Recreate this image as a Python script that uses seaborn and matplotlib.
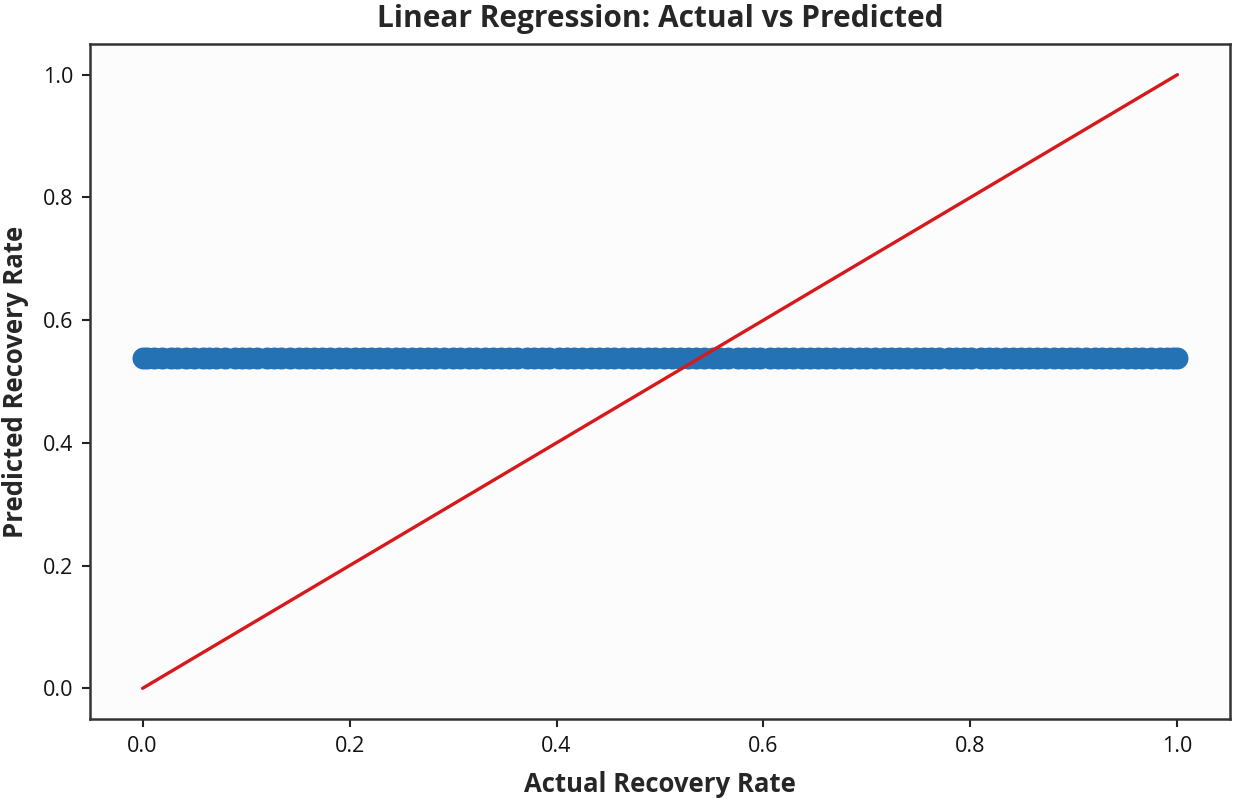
import matplotlib
matplotlib.use("Agg")
import matplotlib.pyplot as plt
import seaborn as sns
import pandas as pd

# Data
actual = [0.000, 0.004, 0.011, 0.019, 0.027, 0.033, 0.042, 0.050, 0.058, 0.064,
          0.071, 0.080, 0.089, 0.096, 0.103, 0.111, 0.120, 0.127, 0.134, 0.142,
          0.151, 0.158, 0.166, 0.173, 0.181, 0.190, 0.197, 0.205, 0.213, 0.221,
          0.228, 0.236, 0.245, 0.252, 0.260, 0.268, 0.276, 0.283, 0.291, 0.300,
          0.307, 0.315, 0.322, 0.331, 0.339, 0.346, 0.354, 0.362, 0.371, 0.378,
          0.386, 0.393, 0.402, 0.410, 0.417, 0.425, 0.433, 0.441, 0.449, 0.456,
          0.464, 0.473, 0.480, 0.488, 0.495, 0.504, 0.512, 0.519, 0.527, 0.535,
          0.543, 0.551, 0.558, 0.566, 0.575, 0.582, 0.590, 0.597, 0.606, 0.614,
          0.621, 0.629, 0.637, 0.645, 0.653, 0.660, 0.668, 0.677, 0.684, 0.692,
          0.699, 0.708, 0.716, 0.723, 0.731, 0.739, 0.747, 0.755, 0.762, 0.770,
          0.779, 0.786, 0.794, 0.801, 0.810, 0.818, 0.825, 0.833, 0.841, 0.849,
          0.857, 0.864, 0.872, 0.881, 0.888, 0.896, 0.903, 0.912, 0.920, 0.927,
          0.935, 0.943, 0.951, 0.959, 0.966, 0.974, 0.983, 0.990, 0.996, 1.000]
predicted = [0.5380, 0.5378, 0.5382, 0.5380, 0.5383, 0.5378, 0.5380, 0.5382, 0.5379, 0.5380,
             0.5383, 0.5380, 0.5378, 0.5381, 0.5380, 0.5380, 0.5384, 0.5378, 0.5380, 0.5382,
             0.5380, 0.5379, 0.5381, 0.5380, 0.5383, 0.5378, 0.5380, 0.5382, 0.5380, 0.5379,
             0.5380, 0.5383, 0.5380, 0.5378, 0.5381, 0.5380, 0.5380, 0.5379, 0.5383, 0.5380,
             0.5381, 0.5378, 0.5380, 0.5380, 0.5384, 0.5378, 0.5381, 0.5380, 0.5379, 0.5380,
             0.5382, 0.5380, 0.5383, 0.5378, 0.5380, 0.5382, 0.5380, 0.5379, 0.5380, 0.5383,
             0.5380, 0.5378, 0.5381, 0.5380, 0.5380, 0.5383, 0.5378, 0.5380, 0.5382, 0.5380,
             0.5379, 0.5381, 0.5380, 0.5384, 0.5380, 0.5378, 0.5380, 0.5382, 0.5380, 0.5379,
             0.5383, 0.5380, 0.5381, 0.5378, 0.5380, 0.5380, 0.5384, 0.5378, 0.5381, 0.5380,
             0.5380, 0.5379, 0.5382, 0.5380, 0.5383, 0.5378, 0.5380, 0.5382, 0.5380, 0.5379,
             0.5380, 0.5383, 0.5380, 0.5378, 0.5381, 0.5380, 0.5380, 0.5379, 0.5383, 0.5380,
             0.5381, 0.5378, 0.5380, 0.5380, 0.5384, 0.5378, 0.5381, 0.5380, 0.5379, 0.5380,
             0.5382, 0.5380, 0.5383, 0.5378, 0.5380, 0.5382, 0.5377, 0.5379, 0.5380, 0.5380]
ref_line_x = [0.0, 1.0]
ref_line_y = [0.0, 1.0]

df = pd.DataFrame({"Actual": actual, "Predicted": predicted})
ref = pd.DataFrame({"x": ref_line_x, "y": ref_line_y})

sns.set_theme(style="ticks")
plt.rcParams['font.family'] = ['Open Sans', 'DejaVu Sans']

fig = plt.figure(figsize=(12.43, 7.99), dpi=100)
ax = fig.add_axes([90 / 1243, 80 / 799, 1140 / 1243, 675 / 799])
ax.set_facecolor("#fcfcfc")

sns.scatterplot(data=df, x="Actual", y="Predicted", ax=ax, s=250,
                color="#2471b3", edgecolor="#2471b3", linewidth=0, alpha=1.0)
sns.lineplot(data=ref, x="x", y="y", ax=ax, color="#d7191c", linewidth=2.4)

ax.set_xlim(-0.0508, 1.0508)
ax.set_ylim(-0.05, 1.05)
ax.set_xticks([0.0, 0.2, 0.4, 0.6, 0.8, 1.0])
ax.set_yticks([0.0, 0.2, 0.4, 0.6, 0.8, 1.0])
ax.set_xticklabels(["0.0", "0.2", "0.4", "0.6", "0.8", "1.0"])
ax.set_yticklabels(["0.0", "0.2", "0.4", "0.6", "0.8", "1.0"])
ax.tick_params(axis="both", labelsize=15.5, length=6, width=1.5, color="#222222",
               labelcolor="#111111", pad=6)
for sp in ax.spines.values():
    sp.set_color("#333333")
    sp.set_linewidth(1.8)

ax.set_xlabel("Actual Recovery Rate", fontsize=18.5, fontweight="bold", labelpad=10)
ax.set_ylabel("Predicted Recovery Rate", fontsize=18.5, fontweight="bold", labelpad=10)
ax.set_title("Linear Regression: Actual vs Predicted", fontsize=21.5,
             fontweight="bold", pad=12)

fig.savefig("out.png", dpi=100, facecolor="white")
